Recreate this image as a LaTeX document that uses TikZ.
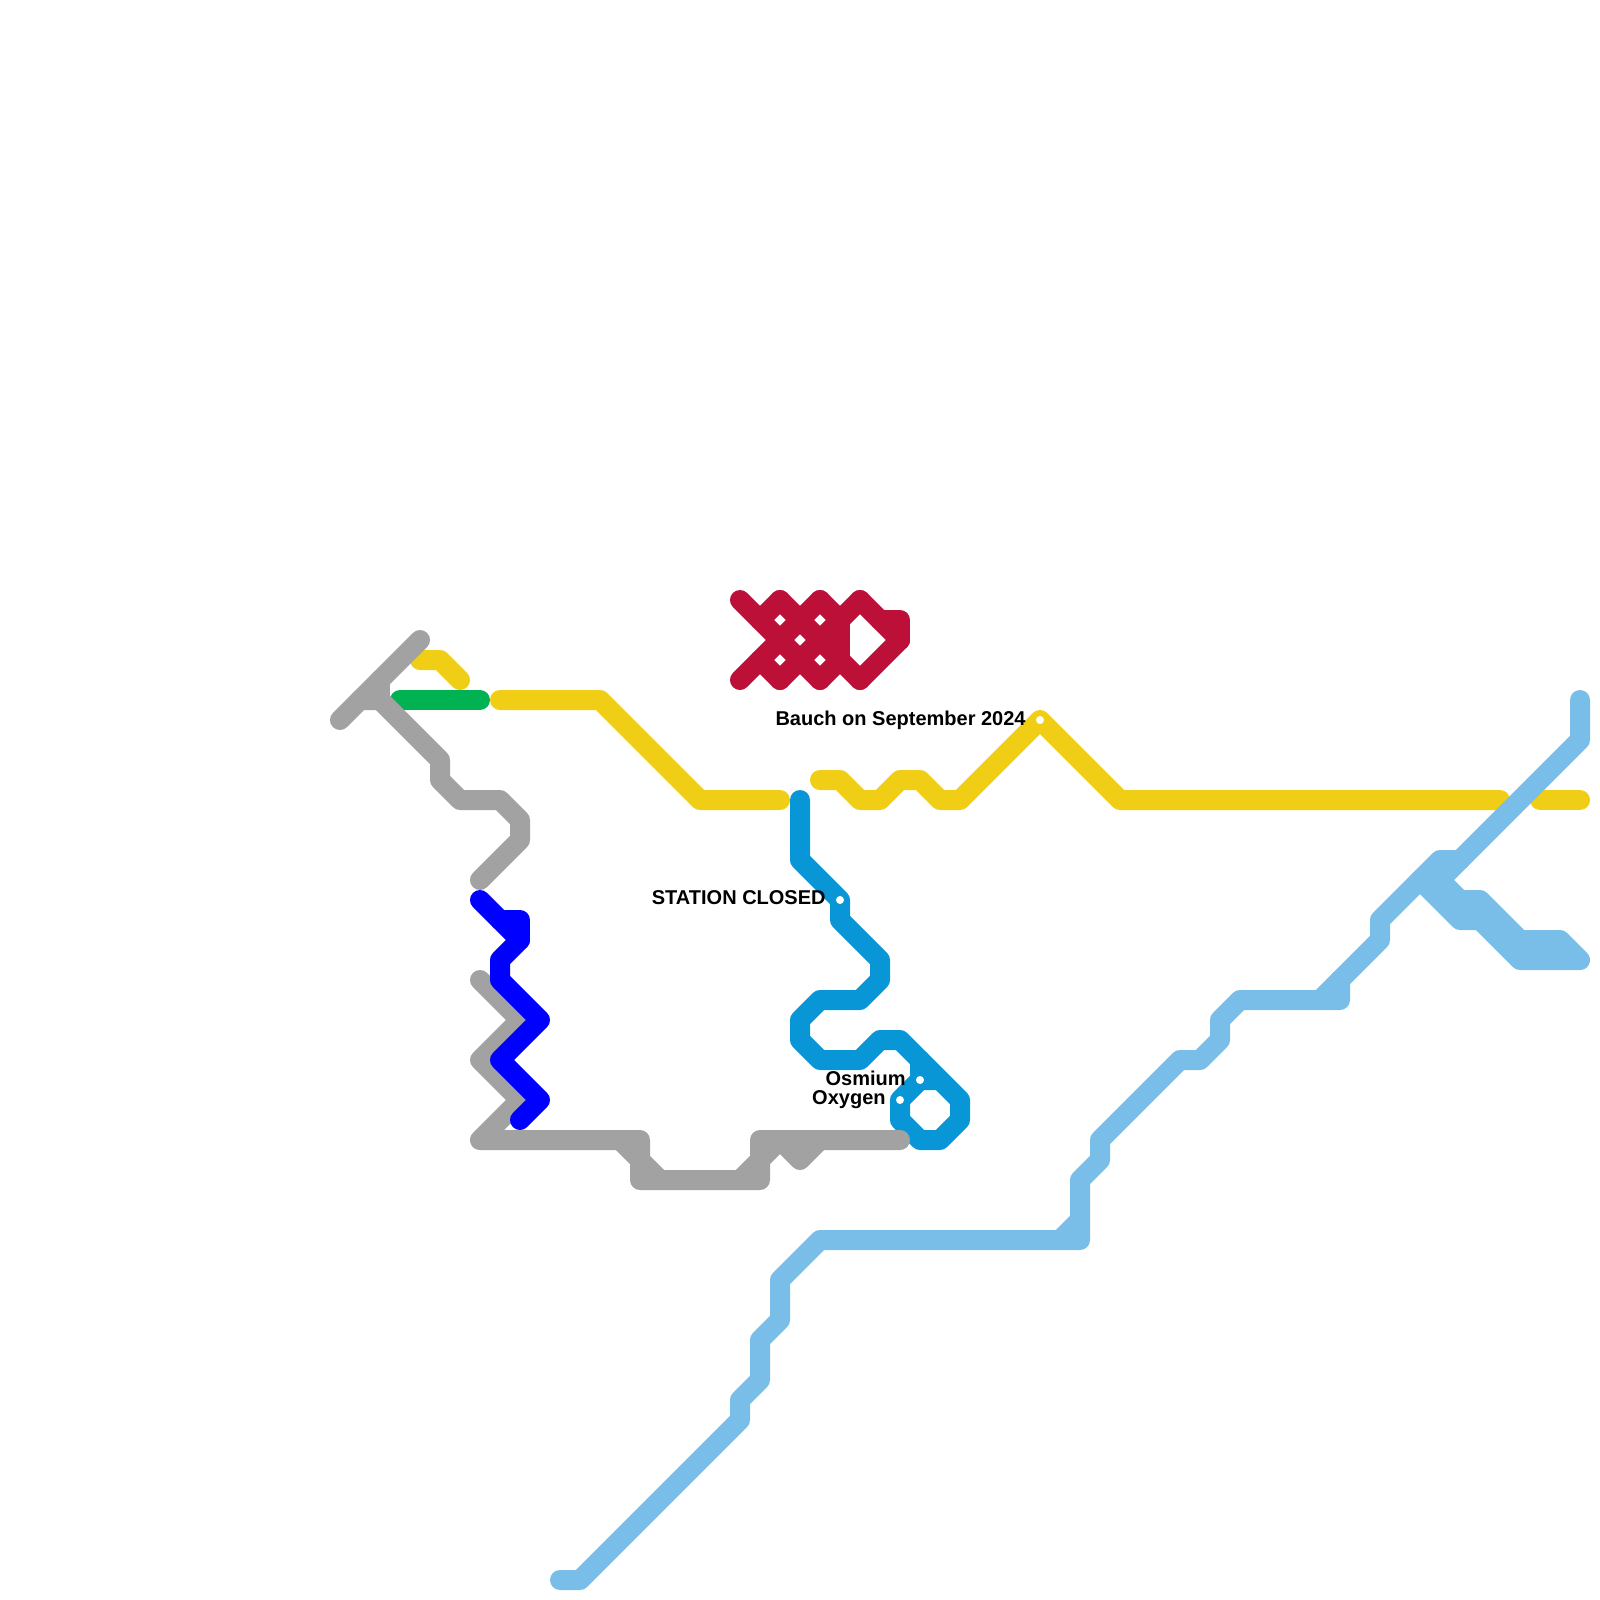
\documentclass[tikz,border=0pt]{standalone}
\usepackage{xcolor}
\usepackage{fontspec}
\setmainfont{Liberation Sans}
\usetikzlibrary{positioning}
\definecolor{sun}{HTML}{F0CE15}
\definecolor{leaf}{HTML}{00B251}
\definecolor{stone}{HTML}{A2A2A2}
\definecolor{sea}{HTML}{0896D7}
\definecolor{pure}{HTML}{0000FF}
\definecolor{sky}{HTML}{79BDE9}
\definecolor{wine}{HTML}{BD1038}
\tikzset{
 route/.style={line width=2mm,line cap=round,line join=round},
 stationdot/.style={circle,fill=white,inner sep=0pt,minimum size=0.08cm},
 stationname/.style={font=\fontsize{5.69}{7}\bfseries\selectfont,text=black,inner sep=0pt,text depth=0pt,node distance=0.09cm}
}
\begin{document}
\begin{tikzpicture}[x=0.2cm,y=-0.2cm]
\useasboundingbox (0,0) rectangle (80,80);
% yellow line
\draw[route,sun] (21,33) -- (22,33) -- (23,34);
\draw[route,sun] (25,35) -- (30,35) -- (35,40) -- (39,40);
\draw[route,sun] (41,39) -- (42,39) -- (43,40) -- (44,40) -- (45,39) -- (46,39) -- (47,40) -- (48,40) -- (52,36) -- (56,40) -- (75,40);
\draw[route,sun] (77,40) -- (79,40);
% green line
\draw[route,leaf] (20,35) -- (24,35);
% sea blue line
\draw[route,sea] (40,40) -- (40,43) -- (42,45) -- (42,46) -- (44,48) -- (44,49) -- (43,50) -- (41,50) -- (40,51) -- (40,52) -- (41,53) -- (43,53) -- (44,52) -- (45,52) -- (48,55) -- (48,56) -- (47,57) -- (46,57) -- (45,56) -- (45,55) -- (46,54) -- (47,54);
\draw[route,sea] (46,53) -- (46,54);
% grey line
\draw[route,stone] (21,32) -- (17,36);
\draw[route,stone] (19,34) -- (19,35);
\draw[route,stone] (18,35) -- (19,35) -- (22,38) -- (22,39) -- (23,40) -- (25,40) -- (26,41) -- (26,42) -- (24,44);
\draw[route,stone] (24,49) -- (26,51) -- (24,53) -- (26,55) -- (24,57) -- (32,57) -- (32,59) -- (38,59) -- (38,57) -- (45,57);
\draw[route,stone] (31,57) -- (33,59);
\draw[route,stone] (37,59) -- (39,57) -- (40,58) -- (41,57);
% pure blue line
\draw[route,pure] (24,45) -- (26,47) -- (25,48) -- (25,49) -- (27,51) -- (25,53) -- (27,55) -- (26,56);
\draw[route,pure] (25,46) -- (26,46) -- (26,47);
% sky line
\draw[route,sky] (28,79) -- (29,79) -- (37,71) -- (37,70) -- (38,69) -- (38,67) -- (39,66) -- (39,64) -- (41,62) -- (54,62) -- (54,59) -- (55,58) -- (55,57) -- (59,53) -- (60,53) -- (61,52) -- (61,51) -- (62,50) -- (67,50) -- (67,49);
\draw[route,sky] (53,62) -- (54,61);
\draw[route,sky] (66,50) -- (69,47) -- (69,46) -- (72,43) -- (73,43) -- (79,37) -- (79,35);
\draw[route,sky] (71,44) -- (73,46) -- (74,46) -- (76,48) -- (79,48) -- (78,47) -- (76,47) -- (74,45) -- (73,45) -- (72,44) -- (73,43);
% red line
\draw[route,wine] (37,30) -- (41,34) (39,30) -- (43,34) (41,30) -- (42,31) (43,30) -- (45,32) (38,33) -- (39,34);
\draw[route,wine] (37,34) -- (41,30) (39,34) -- (43,30) (41,34) -- (42,33) (43,34) -- (45,32) (39,30) -- (38,31);
\draw[route,wine] (42,31) -- (42,33) (44,31) -- (45,31) -- (45,32);
% stations
\node[stationdot] (bauch) at (52,36) {};
\node[stationdot] (closed) at (42,45) {};
\node[stationdot] (osmium) at (46,54) {};
\node[stationdot] (oxygen) at (45,55) {};
\node[stationname,left=of bauch,yshift=0.02cm] (bauchname) {Bauch on September 2024};
\node[stationname,left=of closed,yshift=0.02cm] (closedname) {STATION CLOSED};
\node[stationname,left=of osmium,yshift=0.02cm] (osmiumname) {Osmium};
\node[stationname,left=of oxygen,yshift=0.02cm] (oxygenname) {Oxygen};
\end{tikzpicture}
\end{document}
